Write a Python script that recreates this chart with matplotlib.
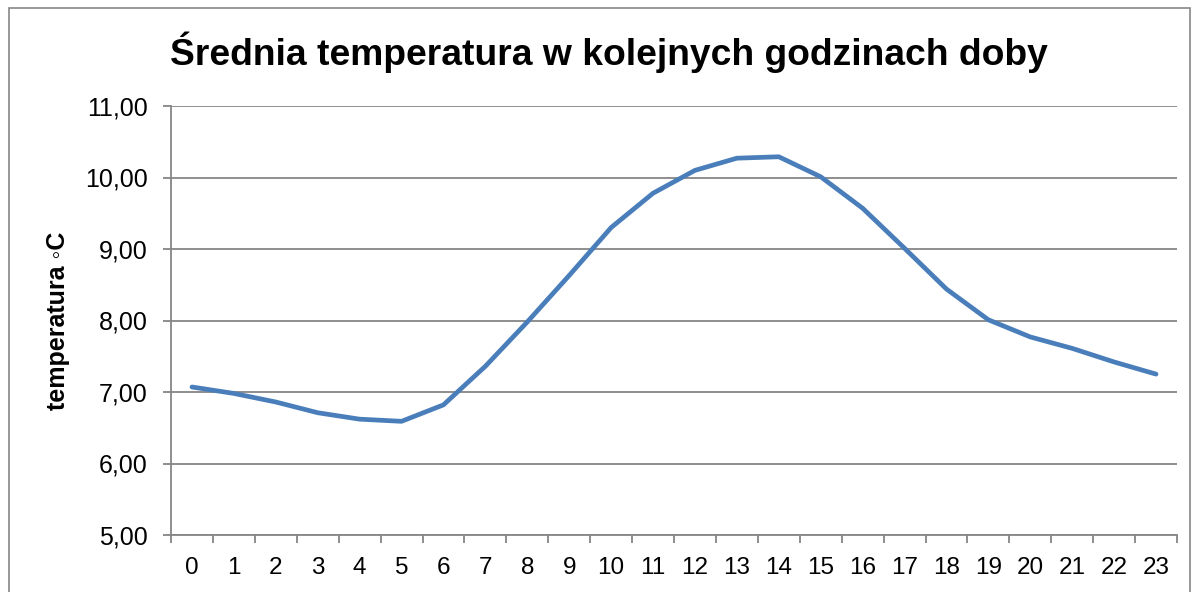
import matplotlib
matplotlib.use("Agg")
import matplotlib.pyplot as plt
from matplotlib.patches import Rectangle
from matplotlib.ticker import FixedLocator, FuncFormatter

plt.rcParams['font.family'] = ['Liberation Sans', 'DejaVu Sans']

hours = list(range(24))
temps = [7.07, 6.98, 6.86, 6.71, 6.62, 6.59, 6.82, 7.36, 7.98, 8.63, 9.30, 9.78,
         10.10, 10.27, 10.29, 10.01, 9.57, 9.01, 8.44, 8.01, 7.77, 7.61, 7.42, 7.25]
y_ticks = [5, 6, 7, 8, 9, 10, 11]
title = "Średnia temperatura w kolejnych godzinach doby"
ylabel = "temperatura ◦C"

W, H = 1199, 592
fig = plt.figure(figsize=(W / 100, H / 100), dpi=100)
fig.patch.set_facecolor('white')

# outer chart border
fig.patches.append(Rectangle((9 / W, -0.05), (1190 - 9) / W, (H - 8) / H + 0.05,
                             transform=fig.transFigure, fill=False,
                             edgecolor='#868686', linewidth=1.2))

left, right, top, bottom = 171, 1177, 106, 535
ax = fig.add_axes([left / W, 1 - bottom / H, (right - left) / W, (bottom - top) / H])

grid_c = '#868686'
ax.plot(hours, temps, color='#4a7ebb', linewidth=3.4, solid_capstyle='round',
        solid_joinstyle='round', zorder=3)

ax.set_xlim(-0.5, 23.5)
ax.set_ylim(5, 11)
ax.set_yticks(y_ticks)
ax.yaxis.set_major_formatter(FuncFormatter(lambda v, p: f"{v:.2f}".replace('.', ',')))
ax.set_xticks(hours)
ax.set_xticklabels([str(h) for h in hours])
ax.xaxis.set_minor_locator(FixedLocator([h - 0.5 for h in hours] + [23.5]))

ax.grid(axis='y', color=grid_c, linewidth=1.3, zorder=1)
ax.set_axisbelow(True)
for s in ['top', 'right']:
    ax.spines[s].set_visible(False)
for s in ['left', 'bottom']:
    ax.spines[s].set_color(grid_c)
    ax.spines[s].set_linewidth(1.3)

ax.tick_params(axis='y', which='major', direction='out', length=6, width=1.3,
               color=grid_c, labelsize=18, pad=11, labelcolor='black')
ax.tick_params(axis='x', which='major', length=0, labelsize=17.5, pad=16,
               labelcolor='black')
ax.tick_params(axis='x', which='minor', direction='out', length=6, width=1.3,
               color=grid_c)

fig.text(58.5 / W, 1 - 320.5 / H, ylabel, rotation=90, ha='center', va='center',
         fontsize=18, fontweight='bold')
fig.text(609 / W, 1 - 52 / H, title, ha='center', va='center',
         fontsize=26.8, fontweight='bold')

fig.savefig("out.png", dpi=100)
